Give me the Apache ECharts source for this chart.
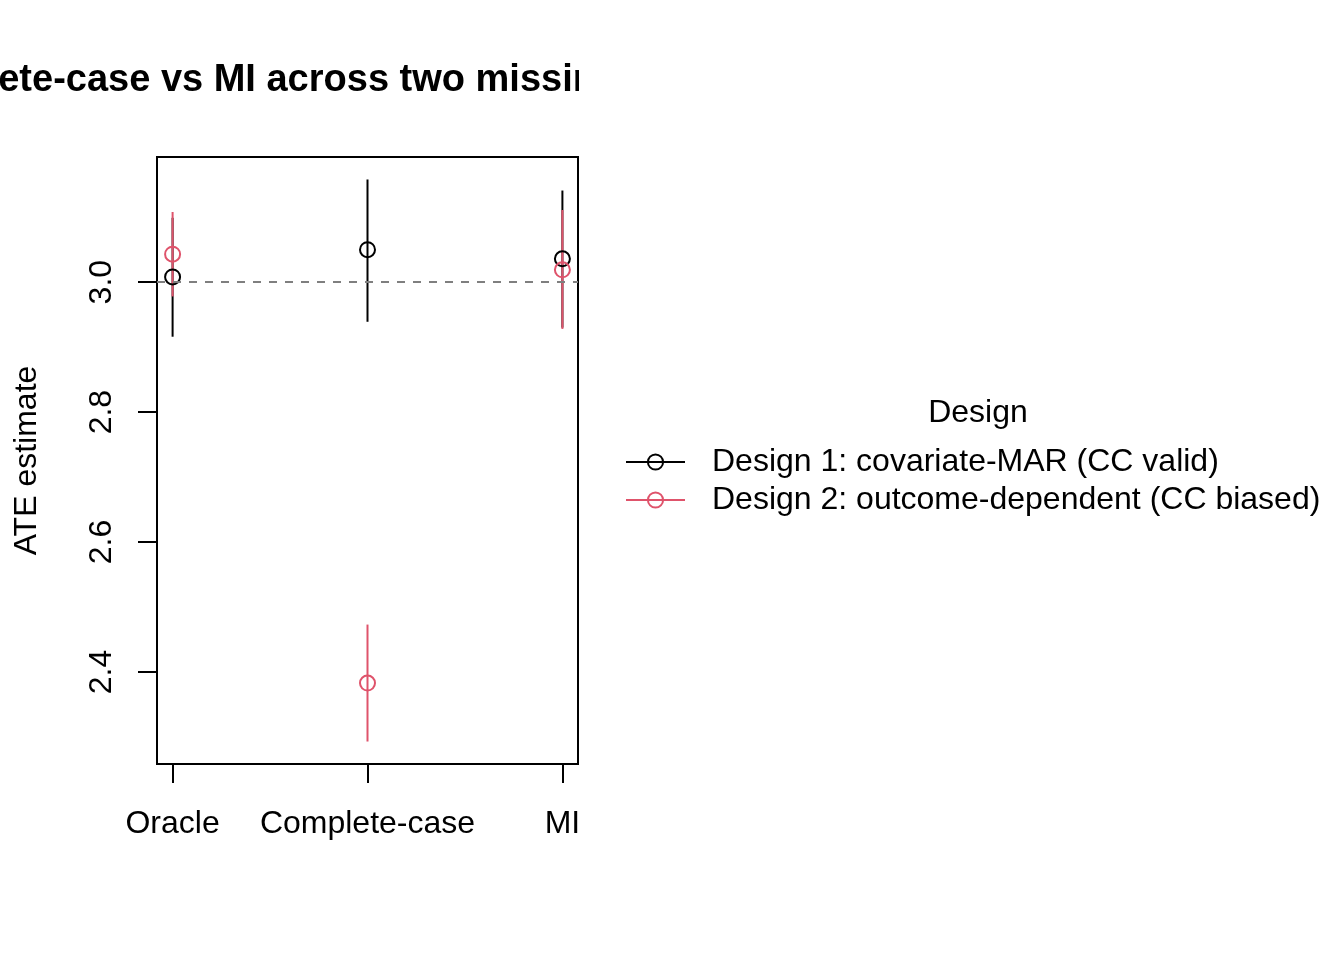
<!DOCTYPE html>
<html>
<head>
<meta charset="utf-8">
<script src="https://cdn.jsdelivr.net/npm/echarts@6.0.0/dist/echarts.min.js"></script>
<style>
html,body{margin:0;padding:0;background:#fff;}
#main{width:1344px;height:960px;}
</style>
</head>
<body>
<div id="main"></div>
<script>
// categories on the x axis (positions 1,2,3)
var categories=['Oracle','Complete-case','MI'];
var xPos=[1,2,3];
var yTicks=[2.4,2.6,2.8,3.0];
var seriesNames=['Design 1: covariate-MAR (CC valid)','Design 2: outcome-dependent (CC biased)'];
// design 1
var d1Est=[3.008,3.050,3.036];
var d1Lo=[2.916,2.939,2.930];
var d1Hi=[3.099,3.158,3.141];
// design 2
var d2Est=[3.043,2.383,3.019];
var d2Lo=[2.978,2.293,2.928];
var d2Hi=[3.108,2.473,3.111];
var trueAte=3.0;

var FONT='"Liberation Sans", Arial, Helvetica, sans-serif';

function pointData(est){
	var out=[];
	for(var i=0;i<xPos.length;i++){
		out.push([xPos[i],est[i]]);
	}
	return out;
}
function barData(lo,hi){
	var out=[];
	for(var i=0;i<xPos.length;i++){
		out.push([xPos[i],lo[i],hi[i]]);
	}
	return out;
}
function errorBars(name,lo,hi,color){
	return {
		type:'custom',
		name:name,
		data:barData(lo,hi),
		encode:{x:0,y:[1,2]},
		silent:true,
		renderItem:function(params,api){
			var p1=api.coord([api.value(0),api.value(1)]);
			var p2=api.coord([api.value(0),api.value(2)]);
			return {
				type:'line',
				shape:{x1:p1[0],y1:p1[1],x2:p2[0],y2:p2[1]},
				style:{stroke:color,lineWidth:2}
			};
		}
	};
}
function points(name,est,color){
	// hollow circles like R pch=1
	return {
		type:'line',
		name:name,
		data:pointData(est),
		symbol:'circle',
		symbolSize:15,
		showSymbol:true,
		color:color,
		itemStyle:{color:'rgba(0,0,0,0)',borderColor:color,borderWidth:2},
		lineStyle:{opacity:0,color:color},
		silent:true
	};
}

function loadChart(){
	var myChart=echarts.init(document.getElementById('main'));
	var lo=Math.min.apply(null,d1Lo.concat(d2Lo));
	var hi=Math.max.apply(null,d1Hi.concat(d2Hi));
	var pad=(hi-lo)*0.04;
	var s1=points(seriesNames[0],d1Est,'#000000');
	s1.markLine={
		silent:true,
		symbol:'none',
		label:{show:false},
		lineStyle:{color:'#7f7f7f',type:[8,8],width:2},
		data:[{yAxis:trueAte}]
	};
	var option={
		animation:false,
		backgroundColor:'#fff',
		grid:{
			left:157,right:766,top:157,bottom:196,
			show:true,borderColor:'#000',borderWidth:2,backgroundColor:'transparent'
		},
		graphic:[
			{
				type:'text',
				x:-120,y:81,
				style:{
					text:'Complete-case vs MI across two missingness designs',
					font:'bold 38px '+FONT,
					fill:'#000',
					textAlign:'left',
					textVerticalAlign:'middle'
				},
				z:100
			},
			{
				type:'rect',
				shape:{x:579,y:30,width:800,height:100},
				style:{fill:'#fff'},
				z:101
			},
			{
				type:'text',
				x:978,y:413,
				style:{
					text:'Design',
					font:'32px '+FONT,
					fill:'#000',
					textAlign:'center',
					textVerticalAlign:'middle'
				},
				z:100
			}
		],
		legend:{
			orient:'vertical',
			left:625,
			top:443,
			padding:0,
			itemWidth:59,
			itemHeight:19,
			itemGap:0,
			data:seriesNames,
			selectedMode:false,
			lineStyle:{width:2,opacity:1},
			itemStyle:{borderWidth:2},
			textStyle:{fontFamily:FONT,fontSize:32,color:'#000',lineHeight:38,padding:[0,0,0,22]}
		},
		xAxis:{
			type:'value',
			min:0.92,
			max:3.08,
			axisLine:{show:false},
			splitLine:{show:false},
			axisTick:{show:true,customValues:xPos,length:19,lineStyle:{color:'#000',width:2}},
			axisLabel:{
				customValues:xPos,
				margin:44,
				fontFamily:FONT,fontSize:32,color:'#000',
				formatter:function(v){
					var i=xPos.indexOf(Math.round(v));
					return i>=0?categories[i]:'';
				}
			}
		},
		yAxis:{
			type:'value',
			min:lo-pad,
			max:hi+pad,
			name:'ATE estimate',
			nameLocation:'middle',
			nameRotate:90,
			nameGap:114,
			nameTextStyle:{fontFamily:FONT,fontSize:32,color:'#000'},
			axisLine:{show:false},
			splitLine:{show:false},
			axisTick:{show:true,customValues:yTicks,length:19,lineStyle:{color:'#000',width:2}},
			axisLabel:{
				customValues:yTicks,
				rotate:90,
				margin:39,
				fontFamily:FONT,fontSize:32,color:'#000',
				formatter:function(v){return v.toFixed(1);}
			}
		},
		series:[
			errorBars('bars1',d1Lo,d1Hi,'#000000'),
			s1,
			errorBars('bars2',d2Lo,d2Hi,'#DF536B'),
			points(seriesNames[1],d2Est,'#DF536B')
		]
	};
	myChart.setOption(option);
}
loadChart();
</script>
</body>
</html>
